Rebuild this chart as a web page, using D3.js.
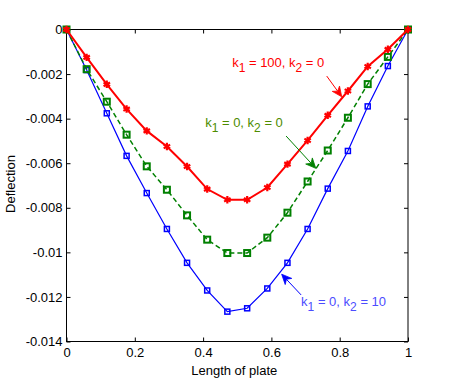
<!DOCTYPE html>
<html>
<head>
<meta charset="utf-8">
<script src="https://cdn.jsdelivr.net/npm/d3@7"></script>
<style>
  body { margin: 0; background: #fff; }
  svg text { font-family: "Liberation Sans", Arial, sans-serif; }
</style>
</head>
<body>
<svg class="chart"></svg>
<script>
// positions along the plate (18 nodes)
var xVals = [0, 0.059, 0.118, 0.176, 0.235, 0.294, 0.353, 0.412, 0.471,
             0.529, 0.588, 0.647, 0.706, 0.765, 0.824, 0.882, 0.941, 1];

// k1 = 100, k2 = 0
var redVals = [0, -0.00125, -0.00246, -0.00357, -0.00455, -0.00525, -0.00615, -0.00716, -0.00764,
               -0.00764, -0.00709, -0.00604, -0.00498, -0.00385, -0.00276, -0.00166, -0.00089, 0];
// k1 = 0, k2 = 0
var greenVals = [0, -0.00178, -0.00324, -0.00472, -0.00614, -0.00719, -0.00834, -0.00943, -0.01003,
                 -0.01003, -0.00934, -0.00822, -0.00682, -0.00543, -0.00396, -0.00245, -0.00123, 0];
// k1 = 0, k2 = 10
var blueVals = [0, -0.00182, -0.00376, -0.00567, -0.00734, -0.00895, -0.01047, -0.01171, -0.01266,
                -0.01251, -0.01162, -0.01047, -0.00895, -0.00714, -0.00545, -0.00345, -0.00164, 0];

var xTicks = [0, 0.2, 0.4, 0.6, 0.8, 1];
var xTickLabels = ['0', '0.2', '0.4', '0.6', '0.8', '1'];
var yTicks = [0, -0.002, -0.004, -0.006, -0.008, -0.01, -0.012, -0.014];
var yTickLabels = ['0', '-0.002', '-0.004', '-0.006', '-0.008', '-0.01', '-0.012', '-0.014'];

function show() {
    'use strict';

    var W = 450, H = 383;
    var left = 66.5, right = 408, top = 29.5, bottom = 341.5;

    var svg = d3.select('.chart').attr('width', W).attr('height', H);

    var x = d3.scaleLinear().domain([0, 1]).range([left, right]);
    var y = d3.scaleLinear().domain([-0.014, 0]).range([bottom, top]);

    // axes, ticks pointing inwards on all four sides
    var fmtX = function (d, i) { return xTickLabels[i]; };
    var fmtY = function (d, i) { return yTickLabels[i]; };

    svg.append('g').attr('transform', 'translate(0,' + bottom + ')')
        .call(d3.axisBottom(x).tickValues(xTicks).tickFormat(fmtX).tickSize(-4).tickPadding(6));
    svg.append('g').attr('transform', 'translate(0,' + top + ')')
        .call(d3.axisTop(x).tickValues(xTicks).tickFormat('').tickSize(-4));
    svg.append('g').attr('transform', 'translate(' + left + ',0)')
        .call(d3.axisLeft(y).tickValues(yTicks).tickFormat(fmtY).tickSize(-4).tickPadding(4));
    svg.append('g').attr('transform', 'translate(' + right + ',0)')
        .call(d3.axisRight(y).tickValues(yTicks).tickFormat('').tickSize(-4));

    svg.selectAll('.domain').remove();
    svg.selectAll('.tick line').attr('stroke', '#000');
    svg.selectAll('.tick text').attr('font-size', 13).attr('fill', '#000')
        .attr('font-family', '"Liberation Sans", Arial, sans-serif');

    svg.append('rect')
        .attr('x', left).attr('y', top)
        .attr('width', right - left).attr('height', bottom - top)
        .attr('fill', 'none').attr('stroke', '#000').attr('stroke-width', 1);

    // series
    var series = [
        { vals: blueVals, color: '#0000ff', width: 1.2, dash: null, marker: 'square', size: 5, mw: 1.5 },
        { vals: greenVals, color: '#008000', width: 1.5, dash: '5,3', marker: 'square', size: 6, mw: 2 },
        { vals: redVals, color: '#ff0000', width: 2, dash: null, marker: 'star', size: 8, mw: 2.2 }
    ];

    var line = d3.line()
        .x(function (d, i) { return x(xVals[i]); })
        .y(function (d) { return y(d); });

    series.forEach(function (s) {
        svg.append('path')
            .datum(s.vals)
            .attr('d', line)
            .attr('fill', 'none')
            .attr('stroke', s.color)
            .attr('stroke-width', s.width)
            .attr('stroke-dasharray', s.dash);

        var g = svg.append('g');
        if (s.marker === 'square') {
            g.selectAll('rect').data(s.vals).enter().append('rect')
                .attr('x', function (d, i) { return x(xVals[i]) - s.size / 2; })
                .attr('y', function (d) { return y(d) - s.size / 2; })
                .attr('width', s.size).attr('height', s.size)
                .attr('fill', 'none')
                .attr('stroke', s.color).attr('stroke-width', s.mw);
        } else {
            g.selectAll('path').data(s.vals).enter().append('path')
                .attr('transform', function (d, i) { return 'translate(' + x(xVals[i]) + ',' + y(d) + ')'; })
                .attr('d', d3.symbol().type(d3.symbolAsterisk).size(s.size * s.size * 0.6))
                .attr('fill', 'none')
                .attr('stroke', s.color).attr('stroke-width', s.mw);
        }
    });

    // annotations: text with subscripts and an arrow to the curve
    var notes = [
        { k1: '100', k2: '0', color: '#ff0000', tx: 0.485, ty: -0.00168,
          from: [0.762, -0.00209], to: [0.806, -0.00302] },
        { k1: '0', k2: '0', color: '#4d8c00', arrow: '#008000', tx: 0.406, ty: -0.00436,
          from: [0.643, -0.00478], to: [0.730, -0.00623] },
        { k1: '0', k2: '10', color: '#4c4cff', arrow: '#0000ff', tx: 0.687, ty: -0.01241,
          from: [0.687, -0.01191], to: [0.630, -0.01098] }
    ];

    notes.forEach(function (n) {
        var t = svg.append('text')
            .attr('x', x(n.tx)).attr('y', y(n.ty))
            .attr('font-size', 13).attr('fill', n.color);
        t.append('tspan').text('k');
        t.append('tspan').attr('dy', 5).attr('font-size', 12).text('1');
        t.append('tspan').attr('dy', -5).text(' = ' + n.k1 + ', k');
        t.append('tspan').attr('dy', 5).attr('font-size', 12).text('2');
        t.append('tspan').attr('dy', -5).text(' = ' + n.k2);

        var c = n.arrow || n.color;
        var x0 = x(n.from[0]), y0 = y(n.from[1]);
        var x1 = x(n.to[0]), y1 = y(n.to[1]);
        var ang = Math.atan2(y1 - y0, x1 - x0);
        var len = 10, half = 4.5, back = 7;
        var ux = Math.cos(ang), uy = Math.sin(ang);
        var bx = x1 - ux * len, by = y1 - uy * len;
        var nx = x1 - ux * back, ny = y1 - uy * back;

        svg.append('line')
            .attr('x1', x0).attr('y1', y0).attr('x2', nx).attr('y2', ny)
            .attr('stroke', c).attr('stroke-width', 1);
        svg.append('path')
            .attr('d', 'M' + x1 + ',' + y1 +
                'L' + (bx - uy * half) + ',' + (by + ux * half) +
                'L' + nx + ',' + ny +
                'L' + (bx + uy * half) + ',' + (by - ux * half) + 'Z')
            .attr('fill', c).attr('stroke', c).attr('stroke-width', 0.8);
    });

    // axis titles
    svg.append('text')
        .attr('x', (left + right) / 2 - 3).attr('y', 375)
        .attr('text-anchor', 'middle').attr('font-size', 13)
        .text('Length of plate');

    svg.append('text')
        .attr('transform', 'translate(15,184) rotate(-90)')
        .attr('text-anchor', 'middle').attr('font-size', 13)
        .text('Deflection');
}

show();
</script>
</body>
</html>
